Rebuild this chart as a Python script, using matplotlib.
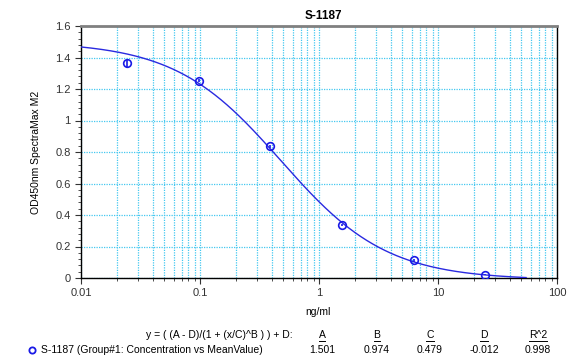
import matplotlib
matplotlib.use("Agg")
import matplotlib.pyplot as plt
from matplotlib.ticker import MultipleLocator
import numpy as np

plt.rcParams['font.family'] = ['Liberation Sans', 'DejaVu Sans']

# standards (ng/ml) and mean OD
conc = [0.0244, 0.0977, 0.391, 1.5625, 6.25, 25.0]
od = [1.362, 1.253, 0.835, 0.338, 0.112, 0.022]
od_err = [0.022, 0.008, 0.010, 0.008, 0.009, 0.006]

# 4PL fit parameters shown under the chart
par_names = ["A", "B", "C", "D", "R^2"]
par_vals = ["1.501", "0.974", "0.479", "-0.012", "0.998"]
A, B, C, D = 1.501, 0.974, 0.479, -0.012

fig = plt.figure(figsize=(5.85, 3.62), dpi=100)
ax = fig.add_axes([81/585, 1 - 278/362, (557-81)/585, (278-26)/362])

grid_col = "#45c8f0"
ax.set_xscale("log")
ax.set_xlim(0.01, 100)
ax.set_ylim(0, 1.6)
ax.yaxis.set_minor_locator(MultipleLocator(0.04))
ax.set_yticks([0, 0.2, 0.4, 0.6, 0.8, 1.0, 1.2, 1.4, 1.6])
ax.set_yticklabels(["0", "0.2", "0.4", "0.6", "0.8", "1", "1.2", "1.4", "1.6"])
ax.set_xticks([0.01, 0.1, 1, 10, 100])
ax.set_xticklabels(["0.01", "0.1", "1", "10", "100"])
ax.grid(True, which="major", color=grid_col, ls=(0, (1, 1)), lw=0.9)
ax.grid(True, which="minor", axis="x", color=grid_col, ls=(0, (1, 1)), lw=0.9)
ax.set_axisbelow(True)

ax.tick_params(axis="both", which="major", direction="out", length=4, labelsize=8, colors="#333333")
ax.tick_params(axis="both", which="minor", direction="out", length=2.5, colors="#333333")
ax.tick_params(axis="x", which="major", pad=3)
for s in ["left", "bottom", "right"]:
    ax.spines[s].set_color("black")
    ax.spines[s].set_linewidth(1.0)
ax.spines["top"].set_color("#808080")
ax.spines["top"].set_linewidth(2.0)

# fitted curve from the parameters above
xf = np.logspace(-2, np.log10(55), 300)
yf = (A - D) / (1 + (xf / C) ** B) + D
ax.plot(xf, yf, color="#2a2ae0", lw=1.0, zorder=3)

ax.errorbar(conc, od, yerr=od_err, fmt="o", mfc="none", mec="#1a1ae6", ecolor="#1a1ae6",
            ms=5.5, mew=1.2, elinewidth=1.2, capsize=0, zorder=4)

ax.set_title("S-1187", fontsize=8.5, fontweight="bold", pad=5, x=(323-81)/(557-81))
ax.set_ylabel("OD450nm SpectraMax M2", fontsize=7.5, labelpad=10)
fig.text(318/585, 1 - 312/362, "ng/ml", fontsize=7.5, ha="center", va="center")

# fit summary below the plot
fig.text(293/585, 1 - 335/362, "y = ( (A - D)/(1 + (x/C)^B ) ) + D:", fontsize=7.5,
         ha="right", va="center")
col_x = [322, 377, 430, 484, 538]
for cx, nm, v in zip(col_x, par_names, par_vals):
    fig.text(cx/585, 1 - 335/362, nm, fontsize=7.5, ha="center", va="center")
    fig.text(cx/585, 1 - 350/362, v, fontsize=7.5, ha="center", va="center")
# underline the parameter names
fig.canvas.draw()
r = fig.canvas.get_renderer()
for t in fig.texts:
    if t.get_text() in par_names:
        bb = t.get_window_extent(r)
        fig.add_artist(plt.Line2D([bb.x0/585, bb.x1/585], [(bb.y0 - 0.5)/362]*2,
                                  color="black", lw=0.7, transform=fig.transFigure))

fig.add_artist(plt.Line2D([32/585], [1 - 350/362], marker="o", mfc="none", mec="#1a1ae6",
                          ms=4.5, mew=1.3, transform=fig.transFigure))
fig.text(41/585, 1 - 350/362, "S-1187 (Group#1: Concentration vs MeanValue)", fontsize=7.5,
         ha="left", va="center")

fig.savefig("out.png", dpi=100)
